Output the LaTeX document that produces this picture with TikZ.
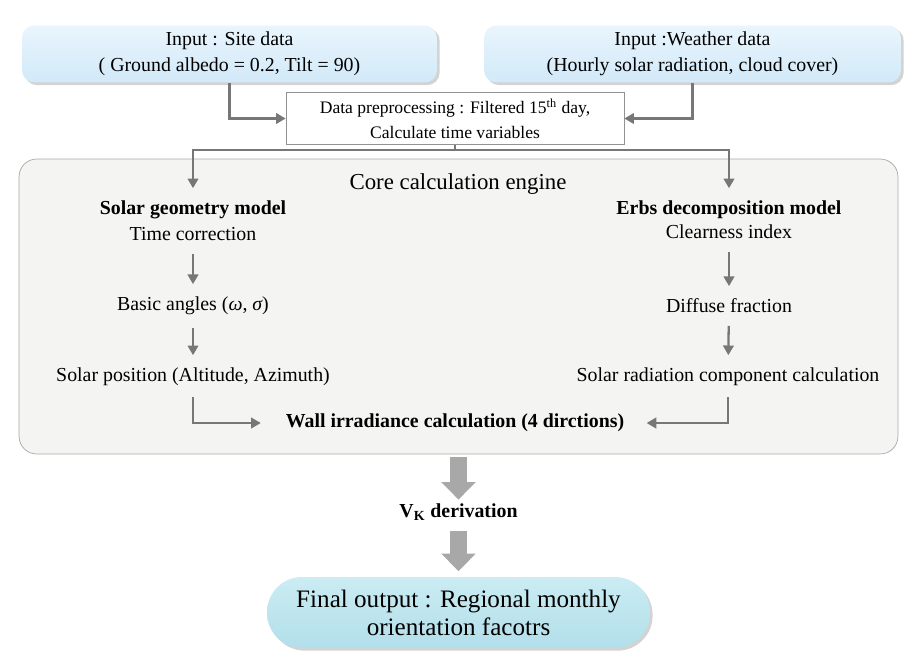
\documentclass[tikz,border=0pt]{standalone}
\usepackage{fontspec}
\setmainfont{Liberation Serif}
\usepackage{tikz}
\usetikzlibrary{positioning}
\usetikzlibrary{arrows.meta,calc,shadows,shapes}
\definecolor{flowgray}{HTML}{777777}
\definecolor{biggray}{HTML}{A8A8A8}
\definecolor{corefill}{HTML}{F4F4F2}
\definecolor{coreline}{HTML}{A8A8A8}
\definecolor{intop}{HTML}{E9F5FD}
\definecolor{inbot}{HTML}{D2E9F8}
\definecolor{outtop}{HTML}{CBECF3}
\definecolor{outbot}{HTML}{B2DFEA}
\tikzset{
    flowchart/.style={x=0.02cm,y=-0.02cm,>={Triangle[length=5.5pt,width=6pt]},semithick},
    inbox/.style={rounded corners=7pt, top color=intop, bottom color=inbot,
                  drop shadow={shadow xshift=1.5pt,shadow yshift=-1.5pt,opacity=0.35},
                  minimum height=1.14cm, align=center,
                  font=\fontsize{11.3pt}{14.8pt}\selectfont},
    prepbox/.style={draw=flowgray!80, fill=white, thin, minimum width=6.76cm,
                  minimum height=1.02cm, align=center,
                  font=\fontsize{10pt}{14.2pt}\selectfont},
    corebox/.style={draw=coreline, fill=corefill, thin, rounded corners=10pt,
                  minimum width=17.58cm, minimum height=5.9cm},
    outbox/.style={rounded corners=0.7cm, top color=outtop, bottom color=outbot,
                  drop shadow={shadow xshift=1.5pt,shadow yshift=-1.5pt,opacity=0.35},
                  minimum width=7.66cm, minimum height=1.42cm, align=center,
                  font=\fontsize{14.3pt}{16pt}\selectfont},
    stage/.style={align=center, inner sep=2pt,
                  font=\fontsize{11.3pt}{14.8pt}\selectfont},
    enginelabel/.style={font=\fontsize{13pt}{15pt}\selectfont},
    link/.style={->, draw=flowgray, line width=1.3pt},
    bigarrow/.style={draw=biggray, line width=10pt, -{Triangle[length=10pt,width=19pt]}},
    }

\begin{document}
\begin{tikzpicture}[flowchart]
    \useasboundingbox (0,0) rectangle (916,670);

    % inputs
    \node[inbox, minimum width=8.3cm] (site) at (229.5,54)
        {Input : Site data\\( Ground albedo = 0.2, Tilt = 90)};
    \node[inbox, minimum width=8.34cm] (weather) at (692.5,54)
        {Input :Weather data\\(Hourly solar radiation, cloud cover)};
    \node[prepbox] (prep) at (455,118.5)
        {Data preprocessing : Filtered 15\textsuperscript{th} day,\\Calculate time variables};

    % engine
    \node[corebox] (core) at (458.5,306.5) {};
    \node[enginelabel] (engine) at (458,184) {Core calculation engine};

    \node[stage] (geo) at (193,221) {\textbf{Solar geometry model}\\Time correction};
    \node[stage] (angles) at (193,306) {Basic angles ({\itshape ω}, {\itshape σ})};
    \node[stage] (solpos) at (193,377) {Solar position (Altitude, Azimuth)};

    \node[stage, font=\fontsize{11.3pt}{13.6pt}\selectfont] (erbs) at (729,220)
        {\textbf{Erbs decomposition model}\\Clearness index};
    \node[stage] (diffuse) at (729,306) {Diffuse fraction};
    \node[stage] (solrad) at (728,377) {Solar radiation component calculation};

    \node[stage] (wall) at (455,423) {\textbf{Wall irradiance calculation (4 dirctions)}};

    % output
    \node[stage] (vk) at (458.5,512) {\textbf{V\textsubscript{K} derivation}};
    \node[outbox] (final) at (458.5,612.5)
        {Final output : Regional monthly\\orientation facotrs};

    \coordinate (split) at (455,150);

    \draw[link] (site) |- (prep);
    \draw[link] (weather) |- (prep);
    \draw[link,-] (prep) -- (split);
    \draw[link, shorten >=5pt] (split) -| (geo);
    \draw[link, shorten >=5pt] (split) -| (erbs);

    \draw[link, shorten <=5pt, shorten >=5pt] (geo) -- (angles);
    \draw[link, shorten <=5pt, shorten >=5pt] (angles) -- (solpos);
    \draw[link, shorten <=4pt, shorten >=12pt] (solpos) |- (wall);

    \draw[link, shorten <=5pt, shorten >=5pt] (erbs) -- (diffuse);
    \draw[link, shorten <=5pt, shorten >=5pt] (diffuse) -- (solrad);
    \draw[link, shorten <=4pt, shorten >=10.5pt] (solrad) |- (wall);

    \draw[bigarrow, shorten <=1.5pt] (core) -- (vk);
    \draw[bigarrow, shorten <=4pt, shorten >=3pt] (vk) -- (final);
\end{tikzpicture}
\end{document}
